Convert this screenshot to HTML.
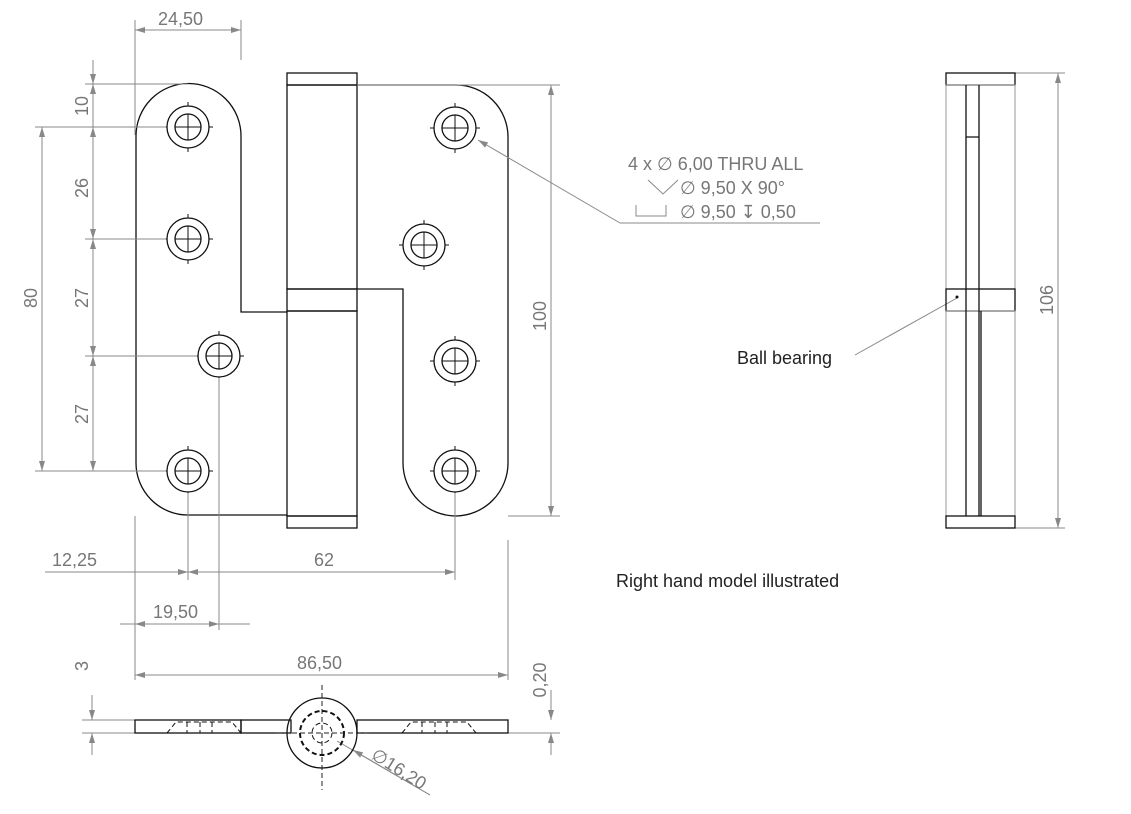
<!DOCTYPE html>
<html><head><meta charset="utf-8"><style>
body{margin:0;background:#fff}
svg{display:block}
text{font-family:"Liberation Sans",sans-serif;fill:#777;font-size:18px}
.k{stroke:#111;fill:none;stroke-width:1.3}
.g{stroke:#999;fill:none;stroke-width:1}
.d{stroke:#888;fill:none;stroke-width:1}
</style></head><body>
<svg width="1131" height="814" viewBox="0 0 1131 814">
<defs>
<marker id="a" markerWidth="10" markerHeight="6" refX="10" refY="3" orient="auto-start-reverse" markerUnits="userSpaceOnUse"><path d="M0,0 L10,3 L0,6z" fill="#888"/></marker>
<g id="h"><circle r="21" class="k" stroke-width="1"/><circle r="13" class="k"/><path d="M-13,0H13M0,-13V13M-25,0h4M21,0h4M0,-25v4M0,21v4" stroke="#111" stroke-width="1"/></g>
</defs>
<!-- left plate -->
<path class="k" d="M287,312 H241 V136 A52,52 0 0 0 136,136 V463 A52,52 0 0 0 188,515 H287"/>
<!-- knuckle -->
<rect x="287" y="73" width="70" height="12" class="k"/>
<rect x="287" y="85" width="70" height="204" class="k" stroke="#444"/>
<rect x="287" y="289" width="70" height="22" class="k"/>
<rect x="287" y="311" width="70" height="205" class="k"/>
<rect x="287" y="516" width="70" height="12" class="k"/>
<!-- right plate -->
<path class="k" d="M357,85 H456 A52,52 0 0 1 508,137 V463 A53,53 0 0 1 456,516 A53,53 0 0 1 403,463 V289 H357"/>
<use href="#h" x="188" y="127"/><use href="#h" x="188" y="239"/><use href="#h" x="219" y="356"/><use href="#h" x="188" y="471"/>
<use href="#h" x="455" y="128"/><use href="#h" x="424" y="245"/><use href="#h" x="455" y="361"/><use href="#h" x="455" y="471"/>
<!-- dims -->
<g class="d">
<path d="M135,20V135M241,20V60"/>
<path d="M135,30H241" marker-start="url(#a)" marker-end="url(#a)"/>
<path d="M85,84H188M85,127H166M85,239H166M85,356H197M85,471H166M35,127H135M35,471H135"/>
<path d="M93,60V84" marker-end="url(#a)"/><path d="M93,127V239" marker-start="url(#a)" marker-end="url(#a)"/><path d="M93,239V356" marker-start="url(#a)" marker-end="url(#a)"/><path d="M93,356V471" marker-start="url(#a)" marker-end="url(#a)"/><path d="M93,84V127" marker-start="url(#a)"/>
<path d="M42,127V471" marker-start="url(#a)" marker-end="url(#a)"/>
<path d="M357,85H560M508,516H560"/><path d="M551,85V516" marker-start="url(#a)" marker-end="url(#a)"/>
<path d="M135,516V680M188,493V580M219,378V630M455,493V580M508,540V680"/>
<path d="M45,572H188" marker-end="url(#a)"/><path d="M188,572H455" marker-start="url(#a)" marker-end="url(#a)"/>
<path d="M120,624H250"/><path d="M135,624H219" marker-start="url(#a)" marker-end="url(#a)"/>
<path d="M135,675H508" marker-start="url(#a)" marker-end="url(#a)"/>
<path d="M1015,73H1065M1015,528H1065"/><path d="M1058,73V528" marker-start="url(#a)" marker-end="url(#a)"/>
<path d="M820,223H620"/><path d="M620,223L478,140" marker-end="url(#a)"/>
<path d="M855,355L957,298"/>
<path d="M82,720H135M82,733H135"/><path d="M92,695V720" marker-end="url(#a)"/><path d="M92,755V733" marker-end="url(#a)"/>
<path d="M508,733H560"/><path d="M551,690V720" marker-end="url(#a)"/><path d="M551,755V733" marker-end="url(#a)"/>
<path d="M430,795L337,741"/><path d="M430,795L353,750" marker-end="url(#a)"/>
</g>
<text x="158" y="25">24,50</text>
<text transform="translate(88,106) rotate(-90)" text-anchor="middle">10</text>
<text transform="translate(88,188) rotate(-90)" text-anchor="middle">26</text>
<text transform="translate(88,298) rotate(-90)" text-anchor="middle">27</text>
<text transform="translate(88,414) rotate(-90)" text-anchor="middle">27</text>
<text transform="translate(37,298) rotate(-90)" text-anchor="middle">80</text>
<text transform="translate(546,316) rotate(-90)" text-anchor="middle">100</text>
<text transform="translate(1053,300) rotate(-90)" text-anchor="middle">106</text>
<text x="52" y="566">12,25</text>
<text x="314" y="566">62</text>
<text x="153" y="618">19,50</text>
<text x="297" y="669">86,50</text>
<text transform="translate(88,666) rotate(-90)" text-anchor="middle">3</text>
<text transform="translate(546,680) rotate(-90)" text-anchor="middle">0,20</text>
<text transform="translate(370,758) rotate(32)">∅16,20</text>
<text x="628" y="170">4 x  ∅  6,00 THRU ALL</text>
<text x="680" y="194">∅  9,50 X 90°</text>
<path d="M648,180L663,194L678,180" stroke="#888" fill="none"/>
<text x="680" y="218">∅  9,50 ↧ 0,50</text>
<path d="M636,205V216H666V205" stroke="#888" fill="none"/>
<text x="737" y="364" style="fill:#222">Ball bearing</text>
<text x="616" y="587" style="fill:#222">Right hand model illustrated</text>
<!-- side view -->
<rect x="946" y="73" width="69" height="12" class="k"/>
<rect x="946" y="85" width="69" height="204" class="g"/>
<rect x="946" y="289" width="69" height="22" class="k"/>
<rect x="946" y="311" width="69" height="205" class="g"/>
<rect x="946" y="516" width="69" height="12" class="k"/>
<path class="k" d="M966,85V516M979,85V516M966,137H979M981,311V516"/>
<circle cx="957" cy="297" r="1.5" fill="#111"/>
<!-- bottom view -->
<rect x="135" y="720" width="106" height="13" class="k" stroke-width="1"/>
<rect x="241" y="720" width="50" height="13" class="k" stroke-width="1"/>
<rect x="357" y="720" width="151" height="13" class="k" stroke-width="1"/>
<g stroke="#111" stroke-dasharray="5,3" fill="none">
<path d="M167,733L176,722H232L241,733M200,722V733M187,722V733M212,722V733"/>
<path d="M402,733L411,722H467L476,733M435,722V733M422,722V733M447,722V733"/>
<circle cx="322" cy="733" r="22" stroke-width="2"/><circle cx="322" cy="733" r="10"/>
<path d="M322,685V790M276,733H370" stroke="#222" stroke-width="1"/>
</g>
<circle cx="322" cy="733" r="35" class="k" stroke-width="3"/>
</svg>
</body></html>
